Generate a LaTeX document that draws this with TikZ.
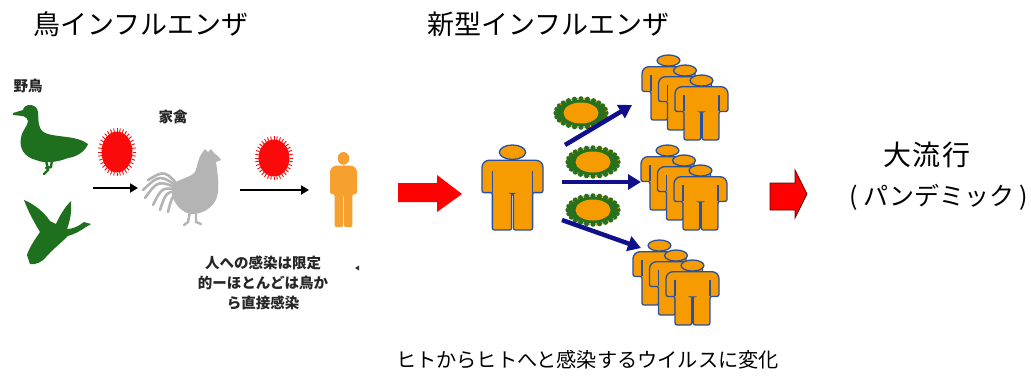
\documentclass[tikz,border=0pt]{standalone}
\usepackage{fontspec}
\newfontfamily\jp{Noto Sans CJK JP}
\usetikzlibrary{arrows.meta}

\definecolor{birdgreen}{RGB}{30,112,30}
\definecolor{fowlgray}{RGB}{180,180,180}
\definecolor{virusred}{RGB}{250,10,10}
\definecolor{skinorange}{RGB}{246,160,48}
\definecolor{manorange}{RGB}{246,156,0}
\definecolor{manblue}{RGB}{40,80,160}
\definecolor{germgreen}{RGB}{40,112,30}
\definecolor{navy}{RGB}{16,16,140}
\definecolor{blockred}{RGB}{255,0,0}

% red influenza particle: centre x, centre y, x radius, y radius
\newcommand\fluparticle[4]{%
  \fill[virusred] (#1,#2) ellipse [x radius=#3, y radius=#4];
  \foreach \a in {0,10,...,350}
    \draw[virusred, line width=0.9pt]
      ({#1+#3*cos(\a)},{#2+#4*sin(\a)}) -- ({#1+(#3+3.5)*cos(\a)},{#2+(#4+3.5)*sin(\a)});
}
% green spiked particle with orange core: centre x, centre y
\newcommand\germparticle[2]{%
  \fill[germgreen] (#1,#2) ellipse [x radius=24, y radius=13.5];
  \foreach \a in {0,15,...,345}{
    \fill[germgreen] ({#1+25*cos(\a)},{#2+14.2*sin(\a)}) circle (2.6);
    \fill[manorange] ({#1+25.5*cos(\a+7.5)},{#2+14.8*sin(\a+7.5)}) circle (0.8);
  }
  \fill[manorange] (#1,#2) ellipse [x radius=17.5, y radius=10.5];
}

\tikzset{
  human/.pic={
    \path[pic actions] (0,0.085) ellipse [x radius=0.215, y radius=0.085];
    \path[pic actions]
      (-0.5,0.56) [rounded corners=7pt] -- (-0.5,0.18) -- (0.5,0.18)
      [rounded corners=2pt] -- (0.5,0.56) -- (0.33,0.56) -- (0.33,1)
      -- (0.015,1) -- (0.015,0.57) -- (-0.015,0.57) -- (-0.015,1)
      -- (-0.33,1) -- (-0.33,0.56) -- cycle;
    \path[pic actions, fill=none] (-0.33,0.3) -- (-0.33,0.56) (0.33,0.3) -- (0.33,0.56);
  },
  person/.style={fill=manorange, draw=manblue, line width=1.3pt},
  headline/.style={font=\jp\fontsize{27}{27}\selectfont, inner sep=0pt},
  boldlabel/.style={font=\jp\bfseries\fontsize{14.5}{20}\selectfont, inner sep=0pt, text=black!85},
  blackarrow/.style={line width=2.8pt, -{Triangle[length=8pt, width=9pt]}},
  bluearrow/.style={navy, line width=4.5pt, -{Triangle[length=13pt, width=15pt]}},
}

\begin{document}
\begin{tikzpicture}[x=1pt, y=-1pt]
\useasboundingbox (0,0) rectangle (1031,376);
\fill[white] (0,0) rectangle (1031,376);

% ---------- headings ----------
\node[headline, anchor=west] (birdflu) at (33,24) {鳥インフルエンザ};
\node[headline, anchor=west] (newflu) at (427,24) {新型インフルエンザ};

% ---------- bird influenza panel ----------
\node[boldlabel] (wildbirds) at (28,86) {野鳥};
\node[boldlabel] (poultry) at (173,117) {家禽};

% sitting duck
\fill[birdgreen] (13,113) -- (23,110) .. controls (24,103) and (37,103) .. (38,112)
  .. controls (39,122) and (37,128) .. (45,133)
  .. controls (58,138) and (76,135) .. (88,144)
  .. controls (85,152) and (76,157) .. (68,158)
  .. controls (58,162) and (45,164) .. (36,160)
  .. controls (24,157) and (19,148) .. (21,138)
  .. controls (22,130) and (28,126) .. (28,121)
  .. controls (28,119) and (26,117) .. (23,116) -- (13,115) -- cycle;
\draw[birdgreen, line width=2.4pt, line cap=round] (46,160) -- (48,170) -- (44,174) (52,160) -- (51,167) -- (46,168);

% flying goose
\fill[birdgreen] (27,255) .. controls (30,246) and (36,238) .. (40,232)
  .. controls (34,222) and (28,211) .. (24,200)
  .. controls (34,204) and (44,212) .. (50,221)
  -- (56,224)
  .. controls (60,215) and (65,207) .. (71,201)
  .. controls (72,212) and (70,221) .. (67,229)
  .. controls (73,229) and (79,226) .. (84,222) -- (91,224) -- (86,227)
  .. controls (80,231) and (75,234) .. (68,236)
  .. controls (62,242) and (52,250) .. (46,257)
  .. controls (42,262) and (36,265) .. (30,264) -- cycle;

% rooster
\fill[fowlgray] (202,153) -- (205,149) -- (208,152) -- (211,149) -- (214,153) -- (219,157) -- (221,160) -- (216,162)
  .. controls (217,170) and (219,180) .. (218,192)
  .. controls (217,205) and (205,214) .. (192,214)
  .. controls (182,213) and (175,205) .. (172,195)
  -- (172,185)
  .. controls (180,178) and (190,178) .. (195,172)
  .. controls (198,165) and (198,158) .. (202,153) -- cycle;
\foreach \ex/\ey/\cx/\cy in {148/180/165/170, 143/190/160/174, 145/198/158/180, 153/205/162/187, 160/210/166/192, 168/212/172/196}
  \draw[fowlgray, line width=2.6pt, line cap=round] (182,190) .. controls (\cx,\cy) .. (\ex,\ey);
\draw[fowlgray, line width=2.4pt, line cap=round] (190,212) -- (188,222) -- (184,225) (196,212) -- (196,222) -- (201,224);

% small person
\pic[fill=skinorange, xscale=27, yscale=75] (infected) at (343.5,152) {human};

% particles and transmission arrows
\fluparticle{117}{152}{15.5}{20.5}
\fluparticle{274}{158}{15.5}{18.5}
\coordinate (duckout) at (93,188);
\coordinate (fowlin) at (138,188);
\coordinate (fowlout) at (240,190);
\coordinate (humanin) at (309,190);
\draw[blackarrow] (duckout) -- (fowlin);
\draw[blackarrow] (fowlout) -- (humanin);

\node[boldlabel, align=center] (limited) at (263,283) {人への感染は限定\\的ーほとんどは鳥か\\ら直接感染};
\fill[black!80] (355,268) -- (359,265.5) -- (359,270.5) -- cycle;

% ---------- new influenza panel ----------
\fill[blockred] (398,183) -- (437,183) -- (437,175) -- (462,194) -- (437,212) -- (437,202) -- (398,202) -- cycle;

\pic[person, xscale=61, yscale=85] (carrier) at (512.5,145) {human};

\germparticle{581}{113}
\germparticle{593}{162}
\germparticle{593}{210}

\coordinate (up0) at (565,145);   \coordinate (up1) at (632,105);
\coordinate (mid0) at (562,182);  \coordinate (mid1) at (641,182);
\coordinate (low0) at (562,220);  \coordinate (low1) at (641,248);
\draw[bluearrow] (up0) -- (up1);
\draw[bluearrow] (mid0) -- (mid1);
\draw[bluearrow] (low0) -- (low1);

% three crowds of people, back row first
\foreach \gx/\gy in {668.5/55, 667.5/145, 659.5/240}{
  \pic[person, xscale=53, yscale=65] at (\gx,\gy) {human};
  \pic[person, xscale=53, yscale=65] at (\gx+16.5,\gy+10) {human};
  \pic[person, xscale=53, yscale=65] at (\gx+33,\gy+20) {human};
}

% ---------- pandemic ----------
\fill[blockred, draw=black!60!red, line width=0.8pt] (770,183) -- (795,183) -- (795,170) -- (807,194) -- (795,218) -- (795,210) -- (770,210) -- cycle;
\node[headline, font=\jp\fontsize{28}{28}\selectfont] (pandemic) at (927,155) {大\hspace{2pt}流\hspace{2pt}行};
\node[headline, font=\jp\fontsize{25}{25}\selectfont] (pandemicjp) at (939,197) {(\hspace{5pt}パンデミック\hspace{5pt})};

\node[headline, font=\jp\fontsize{20.2}{20}\selectfont] (change) at (587.5,360) {ヒトからヒトへと感染するウイルスに変化};
\end{tikzpicture}
\end{document}
